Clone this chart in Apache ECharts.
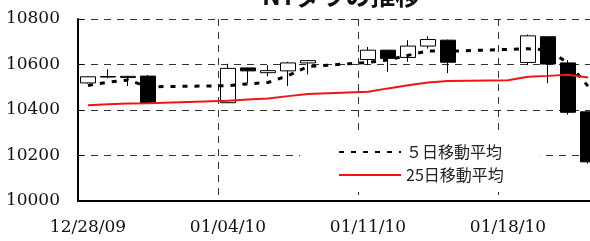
<!DOCTYPE html>
<html>
<head>
<meta charset="utf-8">
<script src="https://cdn.jsdelivr.net/npm/echarts@6/dist/echarts.min.js"></script>
<style>
  html, body { margin: 0; padding: 0; background: #fff; }
  #chart { width: 590px; height: 241px; }
</style>
</head>
<body>
<div id="chart"></div>
<script>
// calendar days on the x axis (weekends and holidays have no candle)
const calendarDays = [
  '12/28/09', '12/29/09', '12/30/09', '12/31/09', '01/01/10', '01/02/10', '01/03/10',
  '01/04/10', '01/05/10', '01/06/10', '01/07/10', '01/08/10', '01/09/10', '01/10/10',
  '01/11/10', '01/12/10', '01/13/10', '01/14/10', '01/15/10', '01/16/10', '01/17/10',
  '01/18/10', '01/19/10', '01/20/10', '01/21/10', '01/22/10'
];

// daily prices, null where there was no trading
const opens  = [10519, 10547, 10543, 10549, null, null, null, 10432, 10585, 10564, 10572, 10607, null, null,
                10622, 10663, 10631, 10681, 10707, null, null, null, 10609, 10722, 10607, 10392];
const closes = [10546, 10545, 10548, 10431, null, null, null, 10583, 10572, 10573, 10607, 10617, null, null,
                10663, 10627, 10681, 10710, 10610, null, null, null, 10726, 10602, 10390, 10172];
const lows   = [10517, 10539, 10505, 10428, null, null, null, 10431, 10518, 10548, 10505, 10557, null, null,
                10597, 10568, 10612, 10670, 10562, null, null, null, 10597, 10517, 10380, 10165];
const highs  = [10548, 10579, 10550, 10554, null, null, null, 10603, 10586, 10597, 10612, 10620, null, null,
                10677, 10664, 10707, 10724, 10709, null, null, null, 10732, 10722, 10619, 10392];

// moving averages
const ma5  = [10508, 10522, 10532, 10502, null, null, null, 10507, 10515, 10521, 10551, 10591, null, null,
              10609, 10620, 10640, 10660, 10658, null, null, null, 10669, 10664, 10607, 10505];
const ma25 = [10421, 10425, 10429, 10430, null, null, null, 10441, 10446, 10451, 10461, 10470, null, null,
              10480, 10495, 10509, 10521, 10527, null, null, 10531, 10546, 10550, 10555, 10543];

const ma5Name = '５日移動平均';
const ma25Name = '25日移動平均';

const candleData = calendarDays.map((d, i) =>
  opens[i] == null ? ['-', '-', '-', '-'] : [opens[i], closes[i], lows[i], highs[i]]
);

const chart = echarts.init(document.getElementById('chart'));

const gridLine = { show: true, lineStyle: { color: '#333', width: 1, type: [7, 6] } };
const labelFont = { fontFamily: 'DejaVu Serif', fontSize: 17, color: '#111' };

chart.setOption({
  backgroundColor: '#fff',
  animation: false,
  title: {
    text: 'NYダウの推移',
    left: 262,
    top: -17,
    padding: 0,
    textStyle: { fontFamily: 'Noto Sans CJK JP', fontSize: 25, fontWeight: 'bold', color: '#111' }
  },
  legend: {
    data: [ma5Name, ma25Name],
    orient: 'vertical',
    left: 300,
    top: 135,
    padding: [9, 36, 9, 38],
    backgroundColor: '#fff',
    itemWidth: 62,
    itemHeight: 14,
    itemGap: 7,
    itemStyle: { opacity: 0 },
    textStyle: { fontFamily: 'Noto Sans CJK JP', fontSize: 16, color: '#222' }
  },
  grid: { left: 78, top: 19, width: 520, height: 182, outerBoundsMode: 'none' },
  xAxis: {
    type: 'category',
    data: calendarDays,
    boundaryGap: true,
    axisLine: { lineStyle: { color: '#000', width: 2 } },
    axisTick: { inside: true, length: 5, interval: 6, lineStyle: { color: '#000', width: 2 } },
    axisLabel: Object.assign({ interval: 6, margin: 18 }, labelFont),
    splitLine: Object.assign({ interval: 6 }, gridLine)
  },
  yAxis: {
    type: 'value',
    min: 10000,
    max: 10800,
    interval: 200,
    axisLine: { show: true, lineStyle: { color: '#000', width: 2 } },
    axisTick: { show: true, inside: true, length: 5, lineStyle: { color: '#000', width: 1 } },
    axisLabel: Object.assign({ margin: 18, formatter: v => String(v) }, labelFont),
    splitLine: gridLine
  },
  series: [
    {
      type: 'candlestick',
      data: candleData,
      barWidth: 15,
      itemStyle: {
        color: '#fff',
        color0: '#000',
        borderColor: '#000',
        borderColor0: '#000',
        borderWidth: 1
      }
    },
    {
      name: ma5Name,
      type: 'line',
      data: ma5,
      connectNulls: true,
      symbol: 'none',
      z: 3,
      itemStyle: { color: '#000' },
      lineStyle: { color: '#000', width: 3, type: [5, 7] }
    },
    {
      name: ma25Name,
      type: 'line',
      data: ma25,
      connectNulls: true,
      symbol: 'none',
      z: 3,
      itemStyle: { color: '#f01414' },
      lineStyle: { color: '#f01414', width: 2 }
    }
  ]
});
</script>
</body>
</html>
